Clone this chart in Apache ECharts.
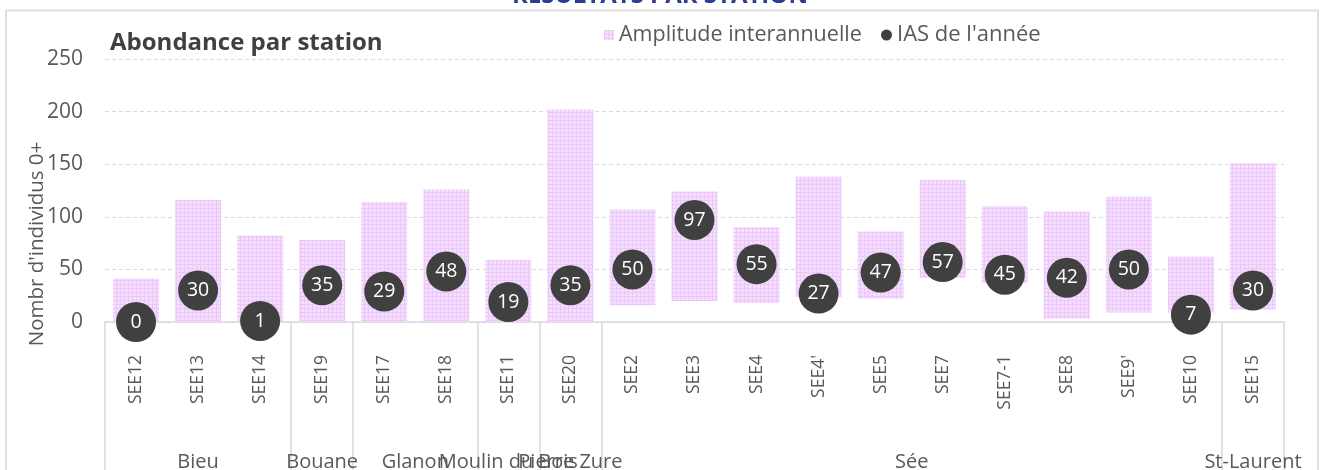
<!DOCTYPE html>
<html>
<head>
<meta charset="utf-8">
<script src="https://cdn.jsdelivr.net/npm/echarts@6/dist/echarts.min.js"></script>
<style>
html,body{margin:0;padding:0;background:#fff;}
#chart{width:1321px;height:470px;}
</style>
</head>
<body>
<div id="chart"></div>
<script>
const categories = ['SEE12','SEE13','SEE14','SEE19','SEE17','SEE18','SEE11','SEE20','SEE2','SEE3','SEE4',"SEE4'",'SEE5','SEE7','SEE7-1','SEE8',"SEE9'",'SEE10','SEE15'];
const groupNames = ['Bieu','Bouane','Glanon','Moulin du Bois','Pierre Zure','Sée','St-Laurent'];
const groupSizes = [3,1,2,1,1,10,1];
const rangeLow  = [0,0,0,0,0,0,0,0,16,20,18,24,22,42,37,3,9,9,12];
const rangeHigh = [41,116,82,78,114,126,59,202,107,124,90,138,86,135,110,105,119,62,151];
const iasValues = [0,30,1,35,29,48,19,35,50,97,55,27,47,57,45,42,50,7,30];
const yTickLabels = [0,50,100,150,200,250];

const FONT = '"Open Sans", "Noto Sans", sans-serif';
const GREY = '#595959';

function makePattern(){
  const c = document.createElement('canvas');
  c.width = 4; c.height = 4;
  const g = c.getContext('2d');
  g.fillStyle = '#f5defd'; g.fillRect(0,0,4,4);
  g.fillStyle = '#ebc7fa'; g.fillRect(0,0,4,1); g.fillRect(0,0,1,4);
  return c;
}
const pattern = {image: makePattern(), repeat: 'repeat'};

const groupStarts = new Set();
const centerMap = {};
let cum = 0;
groupSizes.forEach((s,i)=>{ groupStarts.add(cum); centerMap[(cum + s/2).toFixed(1)] = groupNames[i]; cum += s; });

const rangeSpan = rangeHigh.map((h,i)=>h - rangeLow[i]);

const chart = echarts.init(document.getElementById('chart'), null, {renderer:'canvas'});
chart.setOption({
  backgroundColor: '#fff',
  animation: false,
  textStyle: {fontFamily: FONT},
  title: {
    text: 'Abondance par station', left: 105, top: 26,
    textStyle: {fontSize: 24, fontWeight: 'bold', color: '#404040', fontFamily: FONT}
  },
  legend: [
    {data: ['Amplitude interannuelle'], left: 604, top: 24, padding: 0, itemWidth: 10, itemHeight: 10, icon: 'rect',
     textStyle: {fontSize: 21.5, color: GREY, fontFamily: FONT}},
    {data: ["IAS de l'année"], left: 881, top: 24, padding: 0, itemWidth: 11, itemHeight: 11, icon: 'circle',
     textStyle: {fontSize: 22, color: GREY, fontFamily: FONT}}
  ],
  grid: {left: 105, right: 37, top: 59, bottom: 148, containLabel: false, outerBoundsMode: 'none'},
  xAxis: [
    {
      type: 'category', data: categories, position: 'bottom',
      axisLine: {show: true, lineStyle: {color: '#d9d9d9', width: 1.5}},
      axisTick: {show: true, length: 150, interval: (idx)=>groupStarts.has(idx), lineStyle: {color: '#d9d9d9', width: 1.5}},
      axisLabel: {interval: 0, rotate: 90, margin: 33, fontSize: 17.5, color: GREY, fontFamily: FONT},
      splitLine: {show: false}
    },
    {
      type: 'value', min: 0, max: categories.length, interval: 0.5, position: 'bottom', offset: 0,
      axisLine: {show: false}, axisTick: {show: false}, splitLine: {show: false},
      axisLabel: {margin: 130, fontSize: 20, color: GREY, fontFamily: FONT, showMinLabel: true, showMaxLabel: true,
        formatter: (v)=> centerMap[Number(v).toFixed(1)] || ''}
    }
  ],
  yAxis: {
    type: 'value', min: yTickLabels[0], max: yTickLabels[yTickLabels.length-1], interval: yTickLabels[1]-yTickLabels[0],
    axisLine: {show: false}, axisTick: {show: false},
    axisLabel: {fontSize: 21, color: GREY, margin: 22, fontFamily: FONT},
    splitLine: {show: true, lineStyle: {color: '#d9d9d9', type: [4,3], width: 1}}
  },
  series: [
    {
      name: 'base', type: 'bar', stack: 'range', data: rangeLow, barWidth: '74%',
      itemStyle: {color: 'rgba(0,0,0,0)'}, silent: true, z: 2
    },
    {
      name: 'Amplitude interannuelle', type: 'bar', stack: 'range', data: rangeSpan, barWidth: '74%',
      itemStyle: {color: pattern}, z: 2
    },
    {
      name: "IAS de l'année", type: 'scatter', data: iasValues, symbol: 'circle', symbolSize: 40, clip: false, z: 5,
      itemStyle: {color: '#404040', opacity: 1},
      label: {show: true, position: 'inside', color: '#fff', fontSize: 19.5, fontFamily: FONT}
    }
  ],
  graphic: [
    {type: 'rect', shape: {x: 6, y: 10.5, width: 1312, height: 480}, style: {fill: 'none', stroke: '#e0e0e0', lineWidth: 2}, silent: true, z: -1},
    {type: 'text', x: 660, y: -4, style: {text: 'RÉSULTATS PAR STATION', font: 'bold 24px ' + FONT, fill: '#2e3c96', textAlign: 'center', textVerticalAlign: 'middle'}, silent: true},
    {type: 'text', x: 37, y: 244, rotation: Math.PI/2, style: {text: "Nombr d'individus 0+", font: '20.5px ' + FONT, fill: GREY, textAlign: 'center', textVerticalAlign: 'middle'}, silent: true}
  ]
});
</script>
</body>
</html>
